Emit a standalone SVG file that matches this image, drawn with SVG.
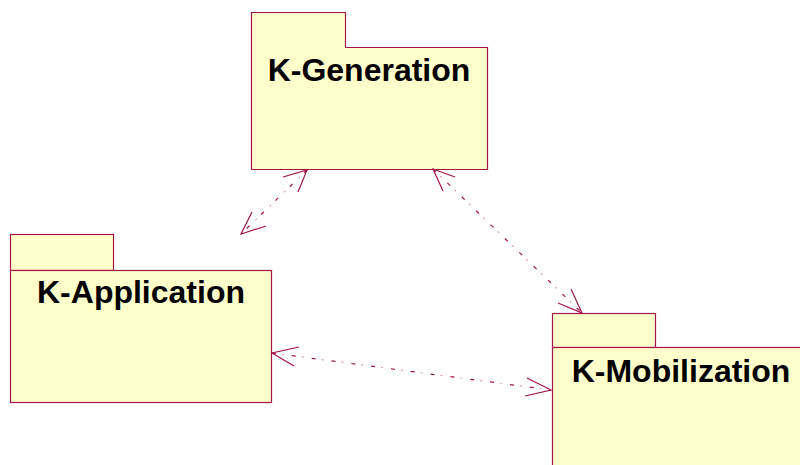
<svg xmlns="http://www.w3.org/2000/svg" width="800" height="465" viewBox="0 0 800 465">
  <style>
    .pkg { fill: #ffffcc; stroke: #a3154b; stroke-width: 1.2; }
    .name { font-family: "Liberation Sans", Arial, sans-serif; font-size: 32px; font-weight: bold; fill: #000; text-anchor: middle; }
    .dep { stroke: #a3154b; stroke-width: 1.2; fill: none; stroke-dasharray: 4 16; }
    .dot { stroke: #dba0b6; stroke-width: 1.2; fill: none; stroke-dasharray: 2 18; stroke-dashoffset: -10; }
    .head { stroke: #a3154b; stroke-width: 1.2; fill: none; }
  </style>
  <rect width="800" height="465" fill="#ffffff"/>

  <g id="k-generation">
    <path class="pkg" d="M251.5,12.5 H345.5 V47.5 H487.5 V169.5 H251.5 Z"/>
    <text class="name" x="369" y="81">K-Generation</text>
  </g>

  <g id="k-application">
    <rect class="pkg" x="10.5" y="234.5" width="103" height="36"/>
    <rect class="pkg" x="10.5" y="270.5" width="261" height="132"/>
    <text class="name" x="141" y="303">K-Application</text>
  </g>

  <g id="k-mobilization">
    <rect class="pkg" x="552.5" y="313.5" width="103" height="34"/>
    <rect class="pkg" x="552.5" y="347.5" width="258" height="130"/>
    <text class="name" x="681" y="382">K-Mobilization</text>
  </g>

  <g id="connectors">
    <!-- Generation <-> Application -->
    <line class="dep" x1="307" y1="170" x2="241" y2="234"/>
    <line class="dot" x1="307" y1="170" x2="241" y2="234"/>
    <polyline class="head" points="283,177 307,170 298,192"/>
    <polyline class="head" points="252,212 241,234 266,226"/>
    <!-- Generation <-> Mobilization -->
    <line class="dep" x1="433" y1="169" x2="582" y2="313"/>
    <line class="dot" x1="433" y1="169" x2="582" y2="313"/>
    <polyline class="head" points="455,177 433,169 443,191"/>
    <polyline class="head" points="558,303 582,313 571,289"/>
    <!-- Application <-> Mobilization -->
    <line class="dep" x1="272" y1="353" x2="551" y2="390"/>
    <line class="dot" x1="272" y1="353" x2="551" y2="390"/>
    <polyline class="head" points="299,347 272,353 294,366"/>
    <polyline class="head" points="527,378 551,390 525,396"/>
  </g>
</svg>
